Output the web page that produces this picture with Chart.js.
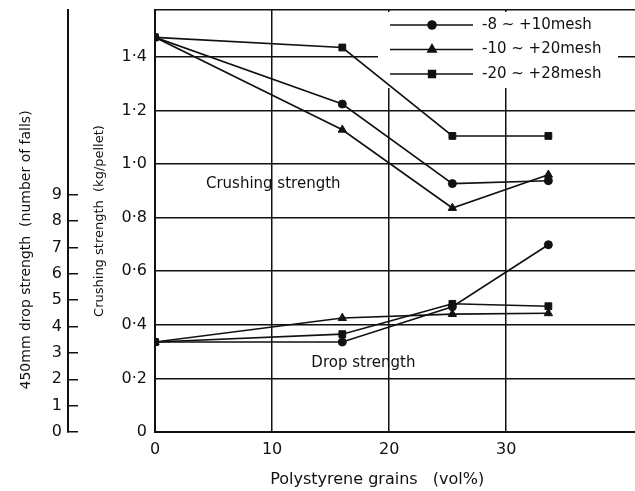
<!DOCTYPE html>
<html>
<head>
<meta charset="utf-8">
<script src="https://cdn.jsdelivr.net/npm/chart.js@4.4.1/dist/chart.umd.min.js"></script>
<style>
  html, body { margin: 0; padding: 0; background: #fff; }
  #wrap { width: 635px; height: 491px; }
</style>
</head>
<body>
<div id="wrap"><canvas id="c"></canvas></div>
<script>
// polystyrene grains (vol%) for each measured pellet batch
let grainsVol = [0, 16, 25.4, 33.6]

let meshLabels = ['-8 ~ +10mesh', '-10 ~ +20mesh', '-20 ~ +28mesh']
let pointStyles = ['circle', 'triangle', 'rect']

// crushing strength (kg/pellet)
let crush8to10 = [1.473, 1.224, 0.927, 0.938]
let crush10to20 = [1.473, 1.128, 0.836, 0.96]
let crush20to28 = [1.473, 1.435, 1.105, 1.105]

// 450mm drop strength (number of falls)
let drop8to10 = [3.41, 3.41, 4.75, 7.1]
let drop10to20 = [3.41, 4.32, 4.47, 4.5]
let drop20to28 = [3.41, 3.71, 4.86, 4.77]

let annotations = [
  { text: 'Crushing strength', x: 10.1, y: 0.925 },
  { text: 'Drop strength', x: 17.8, y: 0.258 }
]

const ink = '#111'
const font = 'DejaVu Sans'
// trailing spaces nudge the centred titles the way the printed figure sits
const pad = n => '\u00a0'.repeat(n)

function series(label, values, style, axis){
  return {
    label: label,
    data: values.map((v, i) => ({ x: grainsVol[i], y: v })),
    yAxisID: axis,
    borderColor: ink,
    backgroundColor: ink,
    borderWidth: 1.6,
    pointStyle: style,
    pointRadius: style === 'circle' ? 4 : 4.8,
    pointBorderWidth: 1,
    tension: 0
  }
}

const datasets = [
  series(meshLabels[0], crush8to10, pointStyles[0], 'crush'),
  series(meshLabels[1], crush10to20, pointStyles[1], 'crush'),
  series(meshLabels[2], crush20to28, pointStyles[2], 'crush'),
  series(meshLabels[0], drop8to10, pointStyles[0], 'drop'),
  series(meshLabels[1], drop10to20, pointStyles[1], 'drop'),
  series(meshLabels[2], drop20to28, pointStyles[2], 'drop')
]

// legend drawn as line-marker-line like the original figure
const meshLegend = {
  id: 'meshLegend',
  beforeDatasetsDraw(chart){
    // white patch hides the grid behind the legend
    const { ctx, chartArea } = chart
    ctx.save()
    ctx.fillStyle = '#fff'
    ctx.fillRect(chartArea.right - 257, chartArea.top + 2, 240, 76)
    ctx.restore()
  },
  afterDraw(chart){
    const { ctx, chartArea } = chart
    const left = chartArea.right - 257
    ctx.save()
    chart.data.datasets.slice(0, 3).forEach((ds, i) => {
      const y = chartArea.top + 15 + i * 24.5
      ctx.strokeStyle = ink
      ctx.fillStyle = ink
      ctx.lineWidth = 1.6
      ctx.beginPath()
      ctx.moveTo(left + 12, y)
      ctx.lineTo(left + 95, y)
      ctx.stroke()
      Chart.helpers.drawPoint(ctx, { pointStyle: ds.pointStyle, radius: ds.pointRadius, borderWidth: 1, rotation: 0 }, left + 54, y)
      ctx.font = '15px "' + font + '"'
      ctx.textAlign = 'left'
      ctx.textBaseline = 'middle'
      ctx.fillText(ds.label, left + 104, y)
    })
    // text notes placed through the scales
    const xs = chart.scales.x, ys = chart.scales.crush
    ctx.font = '15px "' + font + '"'
    ctx.textAlign = 'center'
    annotations.forEach(a => {
      ctx.fillText(a.text, xs.getPixelForValue(a.x), ys.getPixelForValue(a.y))
    })
    ctx.restore()
  }
}

Chart.defaults.font.family = font
Chart.defaults.color = ink

function noPadY(s, w){
  s.width = w
  s.paddingTop = 0
  s.paddingBottom = 0
}

new Chart(document.getElementById('c'), {
  type: 'line',
  data: { datasets: datasets },
  options: {
    responsive: true,
    maintainAspectRatio: false,
    animation: false,
    layout: { autoPadding: false, padding: { top: 10, right: 0, left: 0, bottom: 0 } },
    plugins: { legend: { display: false }, tooltip: { enabled: false } },
    scales: {
      x: {
        type: 'linear',
        min: 0,
        max: 41,
        afterBuildTicks: s => { s.ticks = s.ticks.filter(t => t.value <= 30) },
        ticks: { stepSize: 10, padding: 8, font: { size: 16 }, color: ink },
        grid: { color: ink, lineWidth: 1.5, drawTicks: false },
        border: { color: ink, width: 2 },
        title: { display: true, text: 'Polystyrene grains   (vol%)' + pad(7), font: { size: 16 }, color: ink, padding: { top: 4, bottom: 2 } },
        afterFit: s => { s.height = 59; s.paddingLeft = 0; s.paddingRight = 0 }
      },
      crush: {
        type: 'linear',
        position: 'left',
        weight: 0,
        min: 0,
        max: 1.575,
        ticks: {
          stepSize: 0.2,
          padding: 8,
          font: { size: 16 },
          color: ink,
          callback: v => v > 1.45 ? '' : (v === 0 ? '0' : v.toFixed(1).replace('.', '·'))
        },
        grid: { color: ink, lineWidth: 1.5, drawTicks: false },
        border: { color: ink, width: 2 },
        title: { display: true, text: 'Crushing strength  (kg/pellet)', font: { size: 13 }, color: ink, padding: { top: 24, bottom: 0 } },
        afterFit: s => noPadY(s, 87)
      },
      drop: {
        type: 'linear',
        position: 'left',
        weight: 1,
        min: 0,
        max: 16,
        afterBuildTicks: s => { s.ticks = s.ticks.filter(t => t.value <= 9) },
        ticks: { stepSize: 1, padding: 16, font: { size: 16 }, color: ink },
        grid: { drawOnChartArea: false, color: ink, lineWidth: 1.5, tickLength: -10 },
        border: { color: ink, width: 2 },
        title: { display: true, text: '450mm drop strength  (number of falls)' + pad(13), font: { size: 14 }, color: ink, padding: { top: 18, bottom: 0 } },
        afterFit: s => noPadY(s, 68)
      }
    }
  },
  plugins: [meshLegend]
})
</script>
</body>
</html>
